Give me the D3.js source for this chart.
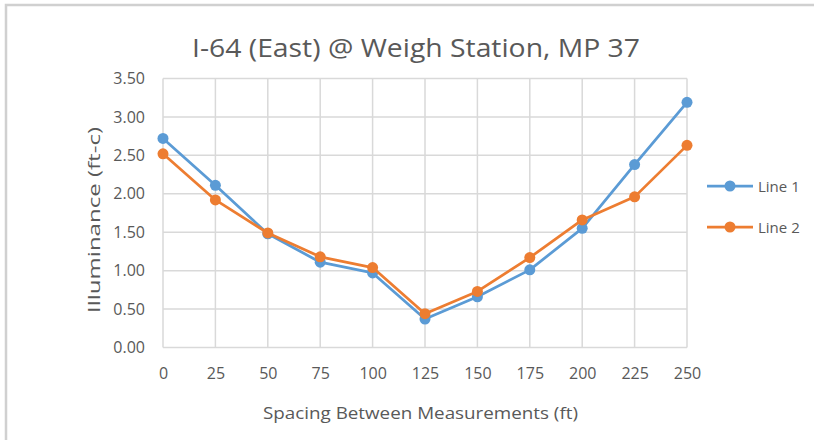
<!DOCTYPE html>
<html><head><meta charset="utf-8">
<script src="https://cdn.jsdelivr.net/npm/d3@7"></script>
<style>html,body{margin:0;padding:0;background:#fff;}</style>
</head><body>
<svg id="chart" width="814" height="440"></svg>
<script>
const categories = [0, 25, 50, 75, 100, 125, 150, 175, 200, 225, 250];
const line1 = [2.72, 2.11, 1.48, 1.11, 0.97, 0.37, 0.66, 1.01, 1.55, 2.38, 3.19];
const line2 = [2.52, 1.92, 1.49, 1.18, 1.04, 0.44, 0.73, 1.17, 1.66, 1.96, 2.63];
const yTicks = [0, 0.5, 1, 1.5, 2, 2.5, 3, 3.5];
const seriesNames = ["Line 1", "Line 2"];
const colors = ["#5B9BD5", "#ED7D31"];

const font = "'Open Sans', 'Noto Sans', sans-serif";
const svg = d3.select("#chart");
svg.append("rect").attr("x", 6).attr("y", 5).attr("width", 820).attr("height", 450)
  .attr("fill", "#fff").attr("stroke", "#D0D0D0").attr("stroke-width", 2.5);

const L = 163, R = 687, T = 78.5, B = 347.5;
const x = d3.scaleLinear().domain([0, 250]).range([L, R]);
const y = d3.scaleLinear().domain([0, 3.5]).range([B, T]);

// grid
const g = svg.append("g");
g.selectAll(".hg").data(yTicks).join("line")
  .attr("x1", L).attr("x2", R).attr("y1", d => y(d)).attr("y2", d => y(d))
  .attr("stroke", "#D9D9D9").attr("stroke-width", 1.5);
g.selectAll(".vg").data(categories).join("line")
  .attr("y1", T).attr("y2", B).attr("x1", d => x(d)).attr("x2", d => x(d))
  .attr("stroke", "#D9D9D9").attr("stroke-width", 1.5);

// axes
const yAxis = d3.axisLeft(y).tickValues(yTicks).tickFormat(d3.format(".2f")).tickSize(0).tickPadding(18);
const ya = svg.append("g").attr("transform", `translate(${L},0)`).call(yAxis);
const xAxis = d3.axisBottom(x).tickValues(categories).tickSize(0).tickPadding(20);
const xa = svg.append("g").attr("transform", `translate(0,${B})`).call(xAxis);
[ya, xa].forEach(a => {
  a.select(".domain").remove();
  a.selectAll("text").attr("font-family", font).attr("font-size", 16).attr("fill", "#595959");
});

// lines
const data = [line1, line2];
data.forEach((vals, i) => {
  const line = d3.line().x((d, j) => x(categories[j])).y(d => y(d));
  svg.append("path").datum(vals).attr("d", line).attr("fill", "none")
    .attr("stroke", colors[i]).attr("stroke-width", 2.75).attr("stroke-linejoin", "round");
  svg.append("g").selectAll("circle").data(vals).join("circle")
    .attr("cx", (d, j) => x(categories[j])).attr("cy", d => y(d)).attr("r", 5.5)
    .attr("fill", colors[i]);
});

// title
svg.append("text").attr("x", 416).attr("y", 57).attr("text-anchor", "middle")
  .attr("font-family", font).attr("font-size", 26).attr("fill", "#595959")
  .attr("textLength", 448).attr("lengthAdjust", "spacingAndGlyphs")
  .text("I-64 (East) @ Weigh Station, MP 37");
// axis titles
svg.append("text").attr("x", 420.5).attr("y", 419).attr("text-anchor", "middle")
  .attr("font-family", font).attr("font-size", 17).attr("fill", "#595959")
  .attr("textLength", 315).attr("lengthAdjust", "spacingAndGlyphs")
  .text("Spacing Between Measurements (ft)");
svg.append("text").attr("transform", "translate(100,220) rotate(-90)").attr("text-anchor", "middle")
  .attr("font-family", font).attr("font-size", 17).attr("fill", "#595959")
  .attr("textLength", 186).attr("lengthAdjust", "spacingAndGlyphs")
  .text("Illuminance (ft-c)");

// legend
const ly = [186, 227];
seriesNames.forEach((n, i) => {
  svg.append("line").attr("x1", 707).attr("x2", 753).attr("y1", ly[i]).attr("y2", ly[i])
    .attr("stroke", colors[i]).attr("stroke-width", 2.75);
  svg.append("circle").attr("cx", 730).attr("cy", ly[i]).attr("r", 5.5).attr("fill", colors[i]);
  svg.append("text").attr("x", 758).attr("y", ly[i] + 5.5).attr("font-family", font)
    .attr("font-size", 15).attr("fill", "#595959").text(n);
});
</script>
</body></html>
